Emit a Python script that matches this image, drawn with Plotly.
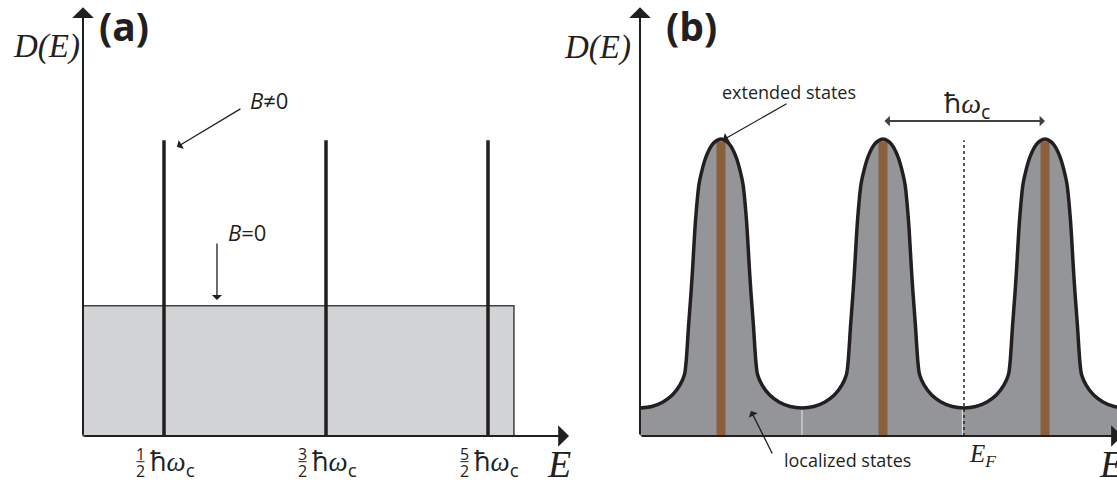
import plotly.graph_objects as go

# ---------------- data ----------------
# Panel (a): Landau levels (units of hbar*omega_c) and densities of states
level_E = [0.5, 1.5, 2.5]
level_num = ["1", "3", "5"]
level_den = "2"
spike_top = 2.27
b0_E = [0, 0, 2.66, 2.66, 0]
b0_D = [0, 1.0, 1.0, 0, 0]

# Panel (b): broadened levels; half-period profile
peak_E = [0.5, 1.5, 2.5]
peak_top = 2.28
fermi_E = 2.0
profile_dE = [0.000, 0.031, 0.056, 0.080, 0.099, 0.117, 0.136, 0.157, 0.176, 0.185, 0.200,
              0.216, 0.226, 0.254, 0.299, 0.358, 0.427, 0.500]
profile_D = [2.28, 2.264, 2.233, 2.18, 2.12, 2.04, 1.93, 1.66, 1.27, 1.10, 0.85,
             0.56, 0.47, 0.39, 0.316, 0.261, 0.226, 0.215]
valley_E = [1.0, 1.99]
valley_D = 0.215

BLACK = "#231f20"
LIGHT = "#d1d3d4"
GREY = "#939598"
BROWN = "#8b5e3c"
SANS = "Open Sans"
SERIF = "Liberation Serif"

fig = go.Figure()

# ---- panel (a)
fig.add_trace(go.Scatter(x=b0_E, y=b0_D, mode="lines", fill="toself",
                         fillcolor=LIGHT, line=dict(color="#414042", width=1.5),
                         xaxis="x", yaxis="y"))
for e in level_E:
    fig.add_trace(go.Scatter(x=[e, e], y=[0, spike_top], mode="lines",
                             line=dict(color=BLACK, width=3.5), xaxis="x", yaxis="y"))
# fraction bars of tick labels
for e in level_E:
    fig.add_trace(go.Scatter(x=[e - 0.17, e - 0.12], y=[-0.197, -0.197], mode="lines",
                             line=dict(color=BLACK, width=1), xaxis="x", yaxis="y"))

# ---- panel (b)
ox, oy = [], []
for c in peak_E:
    for d, v in zip(profile_dE[::-1], profile_D[::-1]):
        if ox and abs(ox[-1] - (c - d)) < 1e-9:
            continue
        ox.append(c - d); oy.append(v)
    for d, v in zip(profile_dE[1:], profile_D[1:]):
        ox.append(c + d); oy.append(v)
fig.add_trace(go.Scatter(x=ox, y=oy, mode="lines", fill="tozeroy", fillcolor=GREY,
                         line=dict(color="rgba(0,0,0,0)", width=0, shape="spline", smoothing=0.8),
                         xaxis="x2", yaxis="y2"))
for e in valley_E:
    fig.add_trace(go.Scatter(x=[e, e], y=[0, valley_D], mode="lines",
                             line=dict(color="#e6e7e8", width=1), xaxis="x2", yaxis="y2"))
for e in peak_E:
    fig.add_trace(go.Scatter(x=[e, e], y=[0, peak_top - 0.02], mode="lines",
                             line=dict(color=BROWN, width=9), xaxis="x2", yaxis="y2"))
fig.add_trace(go.Scatter(x=[fermi_E, fermi_E], y=[0, spike_top], mode="lines",
                         line=dict(color=BLACK, width=1.5, dash="dot"), xaxis="x2", yaxis="y2"))
fig.add_trace(go.Scatter(x=ox, y=oy, mode="lines",
                         line=dict(color=BLACK, width=3.5, shape="spline", smoothing=0.8),
                         xaxis="x2", yaxis="y2"))

ann = []


def arrow(xr, yr, x, y, ax, ay, width, size, side="end", color=BLACK, head=1):
    ann.append(dict(xref=xr, yref=yr, axref=xr, ayref=yr, x=x, y=y, ax=ax, ay=ay,
                    text="", showarrow=True, arrowhead=head, startarrowhead=head,
                    arrowwidth=width, arrowsize=size, startarrowsize=size,
                    arrowside=side, arrowcolor=color, standoff=0, startstandoff=0))


def label(xr, yr, x, y, text, size, family=SANS, xanchor="center", color=BLACK):
    ann.append(dict(xref=xr, yref=yr, x=x, y=y, text=text, showarrow=False,
                    xanchor=xanchor, yanchor="middle",
                    font=dict(family=family, size=size, color=color)))


HW = "ħ<span style=\"font-family:'Liberation Serif'\"><i>ω</i></span><sub>c</sub>"

# axes (a)
arrow("x", "y", 3.0, 0, 0, 0, 2, 1.8)
arrow("x", "y", 0, 3.29, 0, 0, 2, 1.8)
# axes (b)
arrow("x2", "y2", 2.975, 0, 0, 0, 2, 1.8)
arrow("x2", "y2", 0, 3.29, 0, 0, 2, 1.8)

# panel (a) texts
label("x", "y", 0.253, 3.15, "<b>(a)</b>", 39)
label("x", "y", -0.228, 2.99, "<i>D(E)</i>", 33, SERIF)
label("x", "y", 2.938, -0.215, "<i>E</i>", 38, SERIF)
for e, n in zip(level_E, level_num):
    label("x", "y", e - 0.145, -0.135, n, 16)
    label("x", "y", e - 0.145, -0.265, level_den, 16)
    label("x", "y", e + 0.055, -0.205, HW, 27)
label("x", "y", 1.019, 2.58, "<i>B</i>≠0", 22, xanchor="left")
arrow("x", "y", 0.580, 2.218, 0.981, 2.517, 1.3, 1.3)
label("x", "y", 0.883, 1.566, "<i>B</i>=0", 22, xanchor="left")
arrow("x", "y", 0.827, 1.044, 0.827, 1.489, 1.3, 1.3)

# panel (b) texts
label("x2", "y2", 0.315, 3.15, "<b>(b)</b>", 39)
label("x2", "y2", -0.265, 2.98, "<i>D(E)</i>", 33, SERIF)
label("x2", "y2", 2.907, -0.215, "<i>E</i>", 38, SERIF)
label("x2", "y2", 0.920, 2.64, "extended states", 18)
arrow("x2", "y2", 0.512, 2.272, 0.914, 2.556, 1.3, 1.3)
label("x2", "y2", 1.278, -0.184, "localized states", 18)
arrow("x2", "y2", 0.685, 0.192, 0.821, -0.146, 1.3, 1.3)
label("x2", "y2", 2.02, -0.15, "<i>E</i><sub><i>F</i></sub>", 25, SERIF, xanchor="left")
label("x2", "y2", 2.019, 2.55, HW, 28)
arrow("x2", "y2", 2.5, 2.417, 1.5, 2.417, 2, 0.9, side="end+start", color="#414042")

W, H = 1117, 483
ydom = [0, 1 - 6 / H]
fig.update_layout(
    width=W, height=H, margin=dict(l=0, r=0, t=0, b=0),
    paper_bgcolor="white", plot_bgcolor="white", showlegend=False, hovermode=False,
    xaxis=dict(domain=[0, 569 / W], range=[-83 / 162, 486 / 162], visible=False),
    yaxis=dict(domain=ydom, range=[-47 / 130.3, 3.3], visible=False),
    xaxis2=dict(domain=[569 / W, 1], range=[-71 / 162, 477 / 162], visible=False),
    yaxis2=dict(domain=ydom, range=[-47 / 130.3, 3.3], visible=False, anchor="x2"),
    annotations=ann,
)
fig.write_html("out.html")
